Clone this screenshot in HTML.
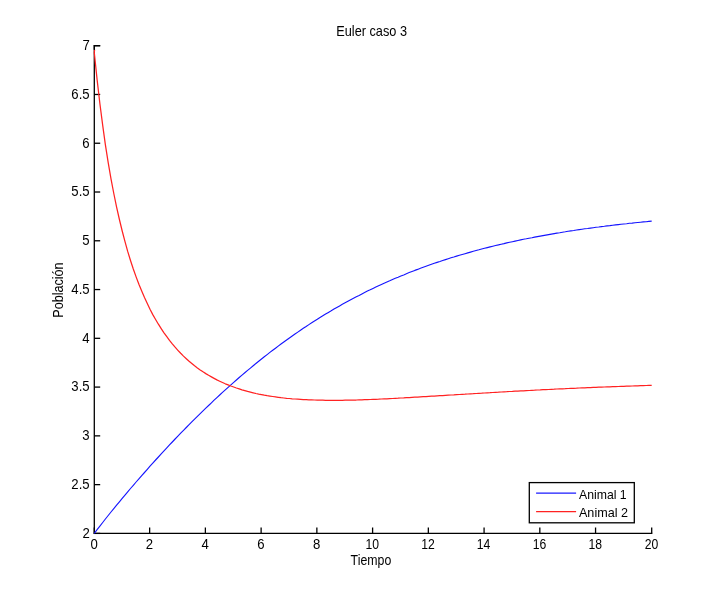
<!DOCTYPE html>
<html lang="es"><head><meta charset="utf-8"><title>Euler caso 3</title>
<style>
html,body{margin:0;padding:0;background:#fff;}
body{width:720px;height:599px;overflow:hidden;}
svg{display:block;}
text{font-family:"Liberation Sans",Arial,Helvetica,sans-serif;font-size:14.0px;fill:#000;}
</style></head><body>
<svg width="720" height="599" viewBox="0 0 720 599">
<rect x="0" y="0" width="720" height="599" fill="#ffffff"/>
<g stroke="#000" stroke-width="1.3" fill="none">
<line x1="94.3" y1="45.10" x2="94.3" y2="534.00"/>
<line x1="93.70" y1="533.4" x2="652.30" y2="533.4"/>
<line x1="94.3" y1="533.4" x2="94.3" y2="527.50"/>
<line x1="149.64" y1="533.4" x2="149.64" y2="527.50"/>
<line x1="205.38" y1="533.4" x2="205.38" y2="527.50"/>
<line x1="261.12" y1="533.4" x2="261.12" y2="527.50"/>
<line x1="316.86" y1="533.4" x2="316.86" y2="527.50"/>
<line x1="372.6" y1="533.4" x2="372.6" y2="527.50"/>
<line x1="428.34" y1="533.4" x2="428.34" y2="527.50"/>
<line x1="484.08" y1="533.4" x2="484.08" y2="527.50"/>
<line x1="539.82" y1="533.4" x2="539.82" y2="527.50"/>
<line x1="595.56" y1="533.4" x2="595.56" y2="527.50"/>
<line x1="651.7" y1="533.4" x2="651.7" y2="527.50"/>
<line x1="94.3" y1="533.4" x2="100.20" y2="533.4"/>
<line x1="94.3" y1="484.63" x2="100.20" y2="484.63"/>
<line x1="94.3" y1="435.86" x2="100.20" y2="435.86"/>
<line x1="94.3" y1="387.09" x2="100.20" y2="387.09"/>
<line x1="94.3" y1="338.32" x2="100.20" y2="338.32"/>
<line x1="94.3" y1="289.55" x2="100.20" y2="289.55"/>
<line x1="94.3" y1="240.78" x2="100.20" y2="240.78"/>
<line x1="94.3" y1="192.01" x2="100.20" y2="192.01"/>
<line x1="94.3" y1="143.24" x2="100.20" y2="143.24"/>
<line x1="94.3" y1="94.47" x2="100.20" y2="94.47"/>
<line x1="94.3" y1="45.7" x2="100.20" y2="45.7"/>
</g>
<polyline points="94.3,533.4 97.1,529.7 99.9,526.1 102.7,522.5 105.4,519.0 108.2,515.5 111.0,512.0 113.8,508.6 116.6,505.2 119.4,501.8 122.2,498.4 125.0,495.1 127.7,491.8 130.5,488.5 133.3,485.3 136.1,482.0 138.9,478.8 141.7,475.6 144.5,472.5 147.3,469.3 150.0,466.2 152.8,463.1 155.6,460.0 158.4,457.0 161.2,453.9 164.0,450.9 166.8,447.9 169.5,444.9 172.3,442.0 175.1,439.0 177.9,436.1 180.7,433.2 183.5,430.4 186.3,427.5 189.1,424.7 191.8,421.9 194.6,419.1 197.4,416.3 200.2,413.6 203.0,410.9 205.8,408.2 208.6,405.5 211.4,402.8 214.1,400.2 216.9,397.6 219.7,395.0 222.5,392.4 225.3,389.9 228.1,387.4 230.9,384.9 233.7,382.4 236.4,380.0 239.2,377.5 242.0,375.1 244.8,372.8 247.6,370.4 250.4,368.1 253.2,365.8 255.9,363.5 258.7,361.2 261.5,359.0 264.3,356.8 267.1,354.6 269.9,352.4 272.7,350.3 275.5,348.2 278.2,346.1 281.0,344.0 283.8,342.0 286.6,340.0 289.4,338.0 292.2,336.0 295.0,334.0 297.8,332.1 300.5,330.2 303.3,328.3 306.1,326.5 308.9,324.6 311.7,322.8 314.5,321.0 317.3,319.3 320.0,317.5 322.8,315.8 325.6,314.1 328.4,312.4 331.2,310.8 334.0,309.1 336.8,307.5 339.6,305.9 342.3,304.3 345.1,302.8 347.9,301.3 350.7,299.8 353.5,298.3 356.3,296.8 359.1,295.4 361.9,293.9 364.6,292.5 367.4,291.1 370.2,289.8 373.0,288.4 375.8,287.1 378.6,285.8 381.4,284.5 384.1,283.2 386.9,282.0 389.7,280.8 392.5,279.5 395.3,278.3 398.1,277.2 400.9,276.0 403.7,274.9 406.4,273.7 409.2,272.6 412.0,271.5 414.8,270.4 417.6,269.4 420.4,268.3 423.2,267.3 426.0,266.3 428.7,265.3 431.5,264.3 434.3,263.3 437.1,262.4 439.9,261.5 442.7,260.5 445.5,259.6 448.2,258.7 451.0,257.8 453.8,257.0 456.6,256.1 459.4,255.3 462.2,254.5 465.0,253.7 467.8,252.9 470.5,252.1 473.3,251.3 476.1,250.5 478.9,249.8 481.7,249.0 484.5,248.3 487.3,247.6 490.1,246.9 492.8,246.2 495.6,245.5 498.4,244.9 501.2,244.2 504.0,243.6 506.8,242.9 509.6,242.3 512.4,241.7 515.1,241.1 517.9,240.5 520.7,239.9 523.5,239.3 526.3,238.8 529.1,238.2 531.9,237.7 534.6,237.1 537.4,236.6 540.2,236.1 543.0,235.6 545.8,235.1 548.6,234.6 551.4,234.1 554.2,233.6 556.9,233.1 559.7,232.7 562.5,232.2 565.3,231.8 568.1,231.3 570.9,230.9 573.7,230.5 576.5,230.0 579.2,229.6 582.0,229.2 584.8,228.8 587.6,228.5 590.4,228.1 593.2,227.7 596.0,227.3 598.7,227.0 601.5,226.6 604.3,226.3 607.1,225.9 609.9,225.6 612.7,225.2 615.5,224.9 618.3,224.6 621.0,224.3 623.8,224.0 626.6,223.7 629.4,223.3 632.2,223.1 635.0,222.8 637.8,222.5 640.6,222.2 643.3,221.9 646.1,221.7 648.9,221.4 651.7,221.1" fill="none" stroke="#1414ff" stroke-width="1.12" stroke-linejoin="round"/>
<polyline points="94.6,49.8 94.3,52.7 97.1,79.6 99.9,103.7 102.7,125.3 105.4,144.9 108.2,162.6 111.0,178.8 113.8,193.5 116.6,207.1 119.4,219.5 122.2,231.0 125.0,241.6 127.7,251.4 130.5,260.5 133.3,269.0 136.1,276.9 138.9,284.3 141.7,291.1 144.5,297.6 147.3,303.6 150.0,309.2 152.8,314.6 155.6,319.5 158.4,324.2 161.2,328.6 164.0,332.8 166.8,336.7 169.5,340.4 172.3,343.9 175.1,347.2 177.9,350.3 180.7,353.3 183.5,356.1 186.3,358.7 189.1,361.2 191.8,363.5 194.6,365.8 197.4,367.9 200.2,369.9 203.0,371.8 205.8,373.6 208.6,375.3 211.4,376.9 214.1,378.4 216.9,379.9 219.7,381.2 222.5,382.5 225.3,383.8 228.1,384.9 230.9,386.0 233.7,387.0 236.4,388.0 239.2,388.9 242.0,389.8 244.8,390.6 247.6,391.4 250.4,392.1 253.2,392.8 255.9,393.5 258.7,394.1 261.5,394.6 264.3,395.2 267.1,395.7 269.9,396.1 272.7,396.5 275.5,396.9 278.2,397.3 281.0,397.7 283.8,398.0 286.6,398.3 289.4,398.5 292.2,398.8 295.0,399.0 297.8,399.2 300.5,399.4 303.3,399.6 306.1,399.7 308.9,399.8 311.7,399.9 314.5,400.0 317.3,400.1 320.0,400.2 322.8,400.2 325.6,400.3 328.4,400.3 331.2,400.3 334.0,400.3 336.8,400.3 339.6,400.3 342.3,400.3 345.1,400.2 347.9,400.2 350.7,400.1 353.5,400.0 356.3,400.0 359.1,399.9 361.9,399.8 364.6,399.7 367.4,399.6 370.2,399.5 373.0,399.4 375.8,399.3 378.6,399.2 381.4,399.0 384.1,398.9 386.9,398.8 389.7,398.6 392.5,398.5 395.3,398.3 398.1,398.2 400.9,398.0 403.7,397.9 406.4,397.7 409.2,397.6 412.0,397.4 414.8,397.2 417.6,397.1 420.4,396.9 423.2,396.7 426.0,396.6 428.7,396.4 431.5,396.2 434.3,396.1 437.1,395.9 439.9,395.7 442.7,395.6 445.5,395.4 448.2,395.2 451.0,395.0 453.8,394.9 456.6,394.7 459.4,394.5 462.2,394.3 465.0,394.2 467.8,394.0 470.5,393.8 473.3,393.7 476.1,393.5 478.9,393.3 481.7,393.2 484.5,393.0 487.3,392.8 490.1,392.7 492.8,392.5 495.6,392.3 498.4,392.2 501.2,392.0 504.0,391.8 506.8,391.7 509.6,391.5 512.4,391.4 515.1,391.2 517.9,391.1 520.7,390.9 523.5,390.8 526.3,390.6 529.1,390.5 531.9,390.3 534.6,390.2 537.4,390.0 540.2,389.9 543.0,389.7 545.8,389.6 548.6,389.5 551.4,389.3 554.2,389.2 556.9,389.0 559.7,388.9 562.5,388.8 565.3,388.7 568.1,388.5 570.9,388.4 573.7,388.3 576.5,388.2 579.2,388.0 582.0,387.9 584.8,387.8 587.6,387.7 590.4,387.6 593.2,387.4 596.0,387.3 598.7,387.2 601.5,387.1 604.3,387.0 607.1,386.9 609.9,386.8 612.7,386.7 615.5,386.6 618.3,386.5 621.0,386.4 623.8,386.3 626.6,386.2 629.4,386.1 632.2,386.0 635.0,385.9 637.8,385.8 640.6,385.7 643.3,385.6 646.1,385.5 648.9,385.4 651.7,385.4" fill="none" stroke="#ff2222" stroke-width="1.25" stroke-linejoin="round"/>
<g stroke="#000" stroke-width="1.3" fill="none"><line x1="94.3" y1="45.10" x2="94.3" y2="49.8"/><line x1="94.3" y1="45.7" x2="100.20" y2="45.7"/></g>
<text transform="translate(90.43,548.90) scale(0.9400,1.0)">0</text>
<text transform="translate(145.79,548.90) scale(0.9400,1.0)">2</text>
<text transform="translate(201.56,548.90) scale(0.9400,1.0)">4</text>
<text transform="translate(257.22,548.90) scale(0.9400,1.0)">6</text>
<text transform="translate(313.01,548.90) scale(0.9400,1.0)">8</text>
<text transform="translate(365.41,548.90) scale(0.8700,1.0)">10</text>
<text transform="translate(421.23,548.90) scale(0.8700,1.0)">12</text>
<text transform="translate(476.83,548.90) scale(0.8700,1.0)">14</text>
<text transform="translate(532.66,548.90) scale(0.8700,1.0)">16</text>
<text transform="translate(588.40,548.90) scale(0.8700,1.0)">18</text>
<text transform="translate(644.66,548.90) scale(0.8700,1.0)">20</text>
<text transform="translate(82.45,537.80) scale(0.9400,1.0)">2</text>
<text transform="translate(71.33,489.03) scale(0.9400,1.0)">2.5</text>
<text transform="translate(82.36,440.26) scale(0.9400,1.0)">3</text>
<text transform="translate(71.33,391.49) scale(0.9400,1.0)">3.5</text>
<text transform="translate(82.16,342.72) scale(0.9400,1.0)">4</text>
<text transform="translate(71.33,293.95) scale(0.9400,1.0)">4.5</text>
<text transform="translate(82.32,245.18) scale(0.9400,1.0)">5</text>
<text transform="translate(71.33,196.41) scale(0.9400,1.0)">5.5</text>
<text transform="translate(82.36,147.64) scale(0.9400,1.0)">6</text>
<text transform="translate(71.33,98.87) scale(0.9400,1.0)">6.5</text>
<text transform="translate(82.45,50.10) scale(0.9400,1.0)">7</text>
<text transform="translate(336.25,35.80) scale(0.9099,1.0)">Euler caso 3</text>
<text transform="translate(350.62,565.20) scale(0.8810,1.0)">Tiempo</text>
<text transform="translate(63.1,317.74) rotate(-90) scale(0.9007,1)">Población</text>
<rect x="529.3" y="482.6" width="105.0" height="40.2" fill="#fff" stroke="#000" stroke-width="1.3"/>
<line x1="536.1" y1="493.2" x2="576.1" y2="493.2" stroke="#1a1aff" stroke-width="1.3"/>
<line x1="536.1" y1="511.6" x2="576.1" y2="511.6" stroke="#ff2222" stroke-width="1.3"/>
<text transform="translate(578.97,498.85) scale(0.8761,0.96)">Animal 1</text>
<text transform="translate(578.97,517.25) scale(0.9009,0.96)">Animal 2</text>
</svg>
</body></html>
